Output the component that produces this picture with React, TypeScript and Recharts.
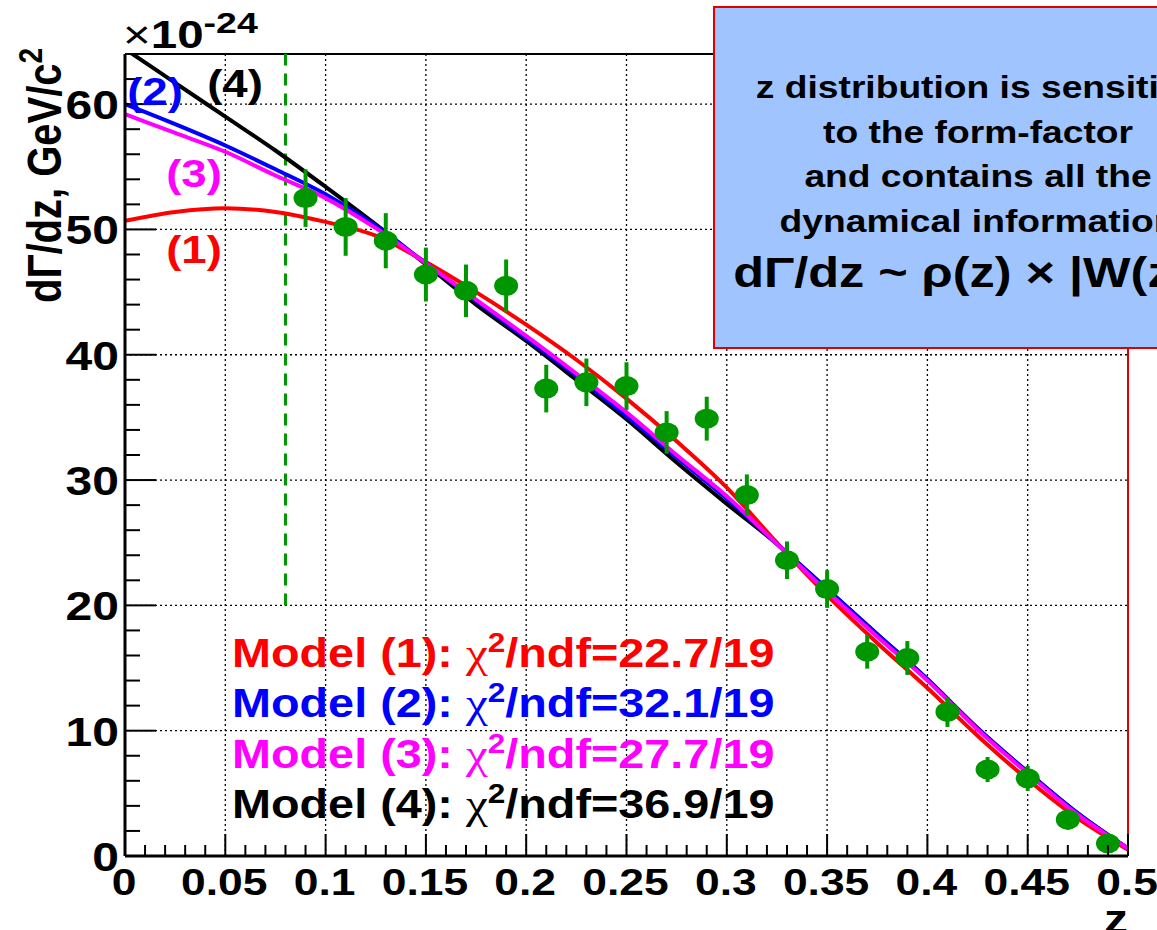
import React from "react";
import {
  ComposedChart,
  Line,
  Scatter,
  ErrorBar,
  XAxis,
  YAxis,
  ReferenceLine,
} from "recharts";

const FONT = '"Liberation Sans", Arial, Helvetica, sans-serif';
const SERIF = '"Liberation Serif", "Times New Roman", serif';
const GREEN = "#009600";

// model curves, sampled every 0.025 in z (units of 1e-24 GeV/c^2)
const curveZ = [
  0, 0.025, 0.05, 0.075, 0.1, 0.125, 0.15, 0.175, 0.2, 0.225, 0.25, 0.275,
  0.3, 0.325, 0.35, 0.375, 0.4, 0.425, 0.45, 0.475, 0.5,
];
const model1 = [
  50.7, 51.4, 51.7, 51.4, 50.6, 49.5, 47.4, 45.0, 42.4, 39.6, 36.5, 33.1,
  29.4, 25.0, 20.8, 17.0, 13.4, 9.6, 6.1, 3.0, 0.5,
];
const model2 = [
  60.0, 58.4, 56.7, 54.8, 52.8, 50.3, 47.3, 44.3, 41.3, 38.3, 35.1, 31.8,
  28.5, 24.9, 21.3, 17.7, 14.1, 10.2, 6.7, 3.4, 0.6,
];
const model3 = [
  59.2, 57.7, 56.2, 54.3, 52.5, 50.1, 47.3, 44.4, 41.5, 38.5, 35.4, 32.0,
  28.7, 24.9, 21.1, 17.5, 14.0, 10.1, 6.6, 3.3, 0.6,
];
const model4 = [
  64.4, 61.7, 59.0, 56.3, 53.4, 50.4, 47.2, 44.0, 41.1, 38.0, 34.85, 31.4,
  28.1, 24.9, 21.3, 17.7, 14.1, 10.2, 6.7, 3.4, 0.6,
];

// measured spectrum
const pointZ = [
  0.09, 0.11, 0.13, 0.15, 0.17, 0.19, 0.21, 0.23, 0.25, 0.27, 0.29, 0.31,
  0.33, 0.35, 0.37, 0.39, 0.41, 0.43, 0.45, 0.47, 0.49,
];
const pointRate = [
  52.5, 50.2, 49.1, 46.4, 45.1, 45.5, 37.3, 37.8, 37.5, 33.8, 34.9, 28.8,
  23.6, 21.3, 16.3, 15.8, 11.5, 6.9, 6.2, 2.9, 1.0,
];
const pointErr = [
  2.3, 2.3, 2.2, 2.15, 2.1, 2.1, 1.9, 1.9, 1.9, 1.7, 1.75, 1.65, 1.5, 1.5,
  1.35, 1.35, 1.2, 1.0, 1.0, 0.8, 0.6,
];

const modelNames = ["Model (1)", "Model (2)", "Model (3)", "Model (4)"];
const modelColors = ["#ff0000", "#0000ff", "#ff00ff", "#000000"];
const modelChi2 = ["22.7", "32.1", "27.7", "36.9"];
const ndf = 19;

const xMajor = [0, 0.05, 0.1, 0.15, 0.2, 0.25, 0.3, 0.35, 0.4, 0.45, 0.5];
const yMajor = [0, 10, 20, 30, 40, 50, 60];
const xTicks = Array.from({ length: 51 }, (_, i) => +(i * 0.01).toFixed(2));
const yTicks = Array.from({ length: 32 }, (_, i) => i * 2);
const cutZ = 0.08;

const infoLines = [
  "z distribution is sensitive",
  "to the form-factor",
  "and contains all the",
  "dynamical information",
];

const curveRows = curveZ.map((z, i) => ({
  z,
  m1: model1[i],
  m2: model2[i],
  m3: model3[i],
  m4: model4[i],
}));
const pointRows = pointZ.map((z, i) => ({
  z,
  rate: pointRate[i],
  err: pointErr[i],
}));

const isMajor = (list: number[], v: number) =>
  list.some((m) => Math.abs(m - v) < 1e-6);

// ROOT-style text: bold Helvetica, slightly wide
const SText = ({
  x,
  y,
  size,
  fill = "#000",
  anchor = "start",
  sx = 1.2,
  children,
}: any) => (
  <text
    transform={`translate(${x},${y}) scale(${sx},1)`}
    fontFamily={FONT}
    fontWeight="bold"
    fontSize={size}
    fill={fill}
    textAnchor={anchor}
  >
    {children}
  </text>
);

const XTick = ({ x, y, payload }: any) => {
  const v = payload.value;
  const major = isMajor(xMajor, v);
  return (
    <g>
      <line x1={x} x2={x} y1={y} y2={y - (major ? 22 : 11)} stroke="#000" strokeWidth={2} />
      {major && (
        <SText x={x - 1} y={y + 39} size={37} anchor="middle">
          {String(v)}
        </SText>
      )}
    </g>
  );
};

const YTick = ({ x, y, payload }: any) => {
  const v = payload.value;
  const major = isMajor(yMajor, v);
  return (
    <g>
      <line x1={x} x2={x + (major ? 31 : 15)} y1={y} y2={y} stroke="#000" strokeWidth={2} />
      {major && (
        <SText x={x - 6} y={y + 15} size={40} anchor="end">
          {String(v)}
        </SText>
      )}
    </g>
  );
};

const Marker = (props: any) => (
  <ellipse cx={props.cx} cy={props.cy} rx={12} ry={10} fill={GREEN} />
);

export default function App() {
  return (
    <div
      style={{
        position: "absolute",
        left: 0,
        top: 0,
        width: 1157,
        height: 930,
        overflow: "hidden",
        background: "#fff",
      }}
    >
      <ComposedChart
        width={1157}
        height={930}
        margin={{ top: 54, right: 29, bottom: 0, left: 25 }}
      >
        <XAxis
          type="number"
          dataKey="z"
          domain={[0, 0.5]}
          ticks={xTicks}
          interval={0}
          tickSize={0}
          tickMargin={0}
          height={74}
          allowDataOverflow
          axisLine={{ stroke: "#000", strokeWidth: 3 }}
          tick={(p: any) => <XTick {...p} />}
        />
        <YAxis
          type="number"
          domain={[0, 64]}
          ticks={yTicks}
          interval={0}
          tickSize={0}
          tickMargin={0}
          width={100}
          allowDataOverflow
          axisLine={{ stroke: "#000", strokeWidth: 3 }}
          tick={(p: any) => <YTick {...p} />}
        />
        {xMajor.slice(1, -1).map((v) => (
          <ReferenceLine key={`gx${v}`} x={v} stroke="#000" strokeWidth={1.3} strokeDasharray="2 3" />
        ))}
        {yMajor.slice(1).map((v) => (
          <ReferenceLine key={`gy${v}`} y={v} stroke="#000" strokeWidth={1.3} strokeDasharray="2 3" />
        ))}
        <ReferenceLine y={64} stroke="#000" strokeWidth={2} />
        <ReferenceLine x={0.5} stroke="#e00000" strokeWidth={2} />
        <ReferenceLine
          segment={[
            { x: cutZ, y: 20 },
            { x: cutZ, y: 64 },
          ]}
          stroke={GREEN}
          strokeWidth={3}
          strokeDasharray="12 8"
        />
        <Line data={curveRows} dataKey="m4" type="monotone" stroke={modelColors[3]} strokeWidth={4} dot={false} isAnimationActive={false} />
        <Line data={curveRows} dataKey="m1" type="monotone" stroke={modelColors[0]} strokeWidth={4} dot={false} isAnimationActive={false} />
        <Line data={curveRows} dataKey="m2" type="monotone" stroke={modelColors[1]} strokeWidth={4} dot={false} isAnimationActive={false} />
        <Line data={curveRows} dataKey="m3" type="monotone" stroke={modelColors[2]} strokeWidth={4} dot={false} isAnimationActive={false} />
        <Scatter data={pointRows} dataKey="rate" shape={Marker} isAnimationActive={false}>
          <ErrorBar dataKey="err" direction="y" width={0} stroke={GREEN} strokeWidth={4} isAnimationActive={false} />
        </Scatter>
      </ComposedChart>

      <svg
        width={1157}
        height={930}
        style={{ position: "absolute", left: 0, top: 0, pointerEvents: "none" }}
      >
        {/* exponent of the y axis */}
        <text transform="translate(123,48) scale(1.25,1)" fontFamily={FONT} fontWeight="bold" fontSize={38}>
          <tspan fontWeight="normal">×</tspan>
          <tspan>10</tspan>
          <tspan dy={-15} fontSize={30}>-24</tspan>
        </text>

        {/* y axis title */}
        <text
          transform="translate(61,303) rotate(-90) scale(1,1.2)"
          fontFamily={FONT}
          fontWeight="bold"
          fontSize={40}
        >
          dΓ/dz, GeV/c
          <tspan dy={-16} fontSize={28}>2</tspan>
        </text>

        {/* x axis title */}
        <SText x={1128} y={933} size={40} anchor="end">z</SText>

        {/* curve tags */}
        <SText x={235} y={97} size={38} anchor="middle" fill={modelColors[3]}>(4)</SText>
        <SText x={155} y={105} size={38} anchor="middle" fill={modelColors[1]}>(2)</SText>
        <SText x={194} y={187} size={38} anchor="middle" fill={modelColors[2]}>(3)</SText>
        <SText x={194} y={263} size={38} anchor="middle" fill={modelColors[0]}>(1)</SText>

        {/* fit quality legend */}
        {modelNames.map((name, i) => (
          <text
            key={name}
            transform={`translate(232,${667 + i * 50.3}) scale(1.17,1)`}
            fontFamily={FONT}
            fontWeight="bold"
            fontSize={40}
            fill={modelColors[i]}
          >
            {name}:{" "}
            <tspan fontFamily={SERIF} fontWeight="normal" fontSize={42}>χ</tspan>
            <tspan dy={-15} fontSize={27}>2</tspan>
            <tspan dy={15}>{`/ndf=${modelChi2[i]}/${ndf}`}</tspan>
          </text>
        ))}

        {/* info box */}
        <rect x={714} y={7} width={470} height={341} fill="#a0c4fd" stroke="#e00000" strokeWidth={2} />
        {infoLines.map((line, i) => (
          <SText key={line} x={978} y={98 + i * 44.7} size={31} anchor="middle">
            {line}
          </SText>
        ))}
        <text transform="translate(978,287) scale(1.2,1)" fontFamily={FONT} fontWeight="bold" fontSize={42} textAnchor="middle">
          dΓ/dz ~ ρ(z) × |W(z)|
          <tspan dy={-17} fontSize={29}>2</tspan>
        </text>
      </svg>
    </div>
  );
}
